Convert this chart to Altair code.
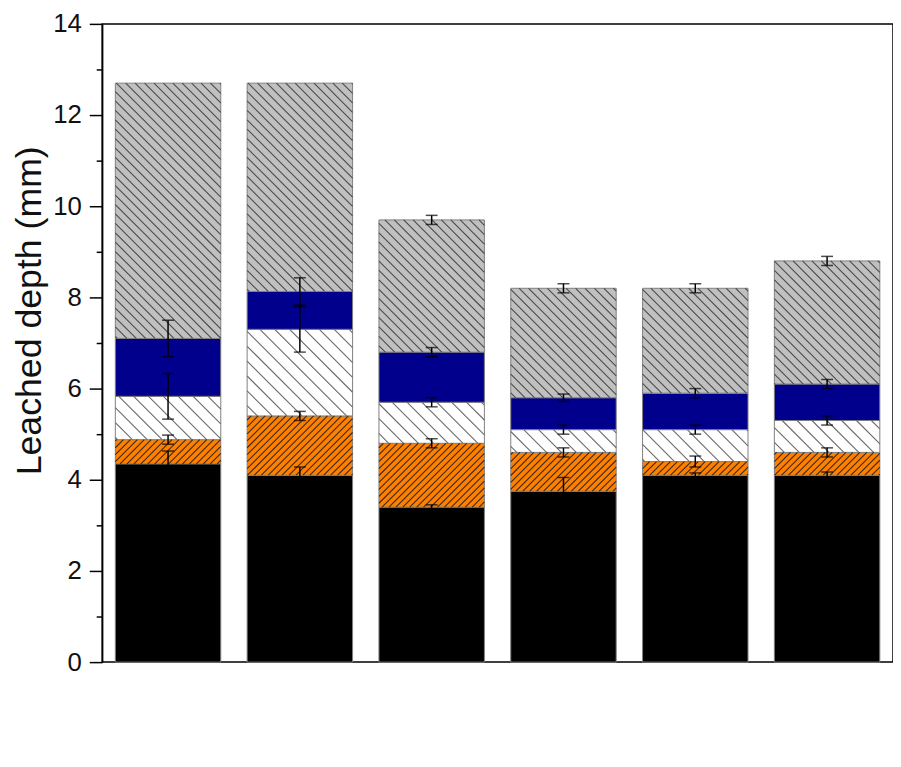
import math
import altair as alt
import pandas as pd

# ---------------- data ----------------
mixes = ["wPC", "5LS", "10DE", "20DE", "30DE", "30DE-5LS"]
series = ["56 d", "28 d", "21 d", "14 d", "7 d"]          # legend order
stack_order = ["7 d", "14 d", "21 d", "28 d", "56 d"]     # bottom -> top

# cumulative leached depth (top of each segment), mm
top_7 = [4.35, 4.10, 3.40, 3.75, 4.10, 4.10]
top_14 = [4.88, 5.40, 4.80, 4.60, 4.40, 4.60]
top_21 = [5.83, 7.30, 5.70, 5.10, 5.10, 5.30]
top_28 = [7.10, 8.13, 6.80, 5.80, 5.90, 6.10]
top_56 = [12.70, 12.70, 9.70, 8.20, 8.20, 8.80]

# error (+/-), mm
err_7 = [0.28, 0.18, 0.05, 0.30, 0.05, 0.07]
err_14 = [0.10, 0.10, 0.10, 0.10, 0.12, 0.10]
err_21 = [0.50, 0.50, 0.10, 0.10, 0.10, 0.10]
err_28 = [0.40, 0.30, 0.10, 0.08, 0.10, 0.10]
err_56 = [0.00, 0.00, 0.10, 0.10, 0.10, 0.10]

y_major = [0, 2, 4, 6, 8, 10, 12, 14]
y_minor = [1, 3, 5, 7, 9, 11, 13]

tops = {"7 d": top_7, "14 d": top_14, "21 d": top_21, "28 d": top_28, "56 d": top_56}
errs = {"7 d": err_7, "14 d": err_14, "21 d": err_21, "28 d": err_28, "56 d": err_56}

# ---------------- styling ----------------
FONT = "Liberation Sans"
fills = {"56 d": "#c0c0c0", "28 d": "#00008c", "21 d": "#ffffff", "14 d": "#ff8000", "7 d": "#000000"}
# hatch: (direction, horizontal spacing px, colour, width)
hatch_style = {"56 d": ("\\", 9.5, "#4a4a4a", 1.1),
               "21 d": ("\\", 15.0, "#6a6a6a", 1.1),
               "14 d": ("/", 7.0, "#3a2a12", 1.1)}

X0, X1 = 0.5, 6.5
Y0, Y1 = 0.0, 14.0
W, H = 798, 644
KX = W / (X1 - X0)
KY = H / (Y1 - Y0)
HALF = 0.4


def hatch_lines(xa, xb, ya, yb, kind, step):
    """lines clipped to a rectangle, all in pixel units with y pointing up"""
    out = []
    if kind == "\\":
        k0 = math.floor((xa + ya) / step)
        k1 = math.ceil((xb + yb) / step)
        for k in range(k0, k1 + 1):
            c = k * step
            p0 = max(xa, c - yb)
            p1 = min(xb, c - ya)
            if p1 - p0 > 0.4:
                out.append((p0, c - p0, p1, c - p1))
    else:
        k0 = math.floor((ya - xb) / step)
        k1 = math.ceil((yb - xa) / step)
        for k in range(k0, k1 + 1):
            c = k * step
            p0 = max(xa, ya - c)
            p1 = min(xb, yb - c)
            if p1 - p0 > 0.4:
                out.append((p0, p0 + c, p1, p1 + c))
    return out


# segments
seg_rows = []
for i, m in enumerate(mixes):
    pos = i + 1
    base = 0.0
    for s in stack_order:
        t = tops[s][i]
        seg_rows.append(dict(mix=m, pos=pos, xa=pos - HALF, xb=pos + HALF,
                             series=s, y0=base, y1=t, lo=t - errs[s][i], hi=t + errs[s][i],
                             err=errs[s][i]))
        base = t
seg = pd.DataFrame(seg_rows)
err_df = seg[seg["err"] > 0].copy()

# hatch lines for bars (derived from the segment rectangles)
hatch_frames = {}
for s_name, (kind, step, col, _w) in hatch_style.items():
    rows = []
    for r in seg_rows:
        if r["series"] != s_name:
            continue
        xa = (r["xa"] - X0) * KX
        xb = (r["xb"] - X0) * KX
        ya = r["y0"] * KY
        yb = r["y1"] * KY
        for (p0, q0, p1, q1) in hatch_lines(xa, xb, ya, yb, kind, step):
            rows.append(dict(hx=p0 / KX + X0, hy=q0 / KY, hx2=p1 / KX + X0, hy2=q1 / KY))
    hatch_frames[s_name] = pd.DataFrame(rows)

x_scale = alt.Scale(domain=[X0, X1], nice=False, zero=False)
y_scale = alt.Scale(domain=[Y0, Y1], nice=False, zero=False)
fill_scale = alt.Scale(domain=series, range=[fills[s] for s in series])

label_expr = ""
for i, m in enumerate(mixes):
    label_expr += f"datum.value == {i + 1} ? '{m}' : "
label_expr += "''"

x_axis = alt.Axis(values=list(range(1, len(mixes) + 1)), labelExpr=label_expr,
                  tickSize=13, labelPadding=8, titlePadding=18, grid=False)
y_axis = alt.Axis(values=y_major, tickSize=13, labelPadding=8, titlePadding=4,
                  titleY=289, grid=False)
y_axis_minor = alt.Axis(values=y_minor, tickSize=6, labels=False, domain=False,
                        title=None, grid=False, orient="left")

bars = alt.Chart(seg).mark_bar(stroke="#808080", strokeWidth=1).encode(
    x=alt.X("xa:Q", scale=x_scale, axis=x_axis, title="Mix"),
    x2="xb:Q",
    y=alt.Y("y0:Q", scale=y_scale, axis=y_axis, title="Leached depth (mm)"),
    y2="y1:Q",
    fill=alt.Fill("series:N", scale=fill_scale, legend=None),
)

hatch_layers = []
for s_name, (kind, step, col, lw) in hatch_style.items():
    hatch_layers.append(
        alt.Chart(hatch_frames[s_name]).mark_rule(strokeWidth=lw, color=col).encode(
            x=alt.X("hx:Q", scale=x_scale, axis=None),
            x2="hx2:Q",
            y=alt.Y("hy:Q", scale=y_scale, axis=None),
            y2="hy2:Q",
        )
    )

err_line = alt.Chart(err_df).mark_rule(color="black", strokeWidth=1.5).encode(
    x=alt.X("pos:Q", scale=x_scale, axis=None),
    y=alt.Y("lo:Q", scale=y_scale, axis=y_axis_minor),
    y2="hi:Q",
)
cap_lo = alt.Chart(err_df).mark_tick(color="black", orient="horizontal", size=12, thickness=1.5).encode(
    x=alt.X("pos:Q", scale=x_scale, axis=None),
    y=alt.Y("lo:Q", scale=y_scale, axis=None),
)
cap_hi = alt.Chart(err_df).mark_tick(color="black", orient="horizontal", size=12, thickness=1.5).encode(
    x=alt.X("pos:Q", scale=x_scale, axis=None),
    y=alt.Y("hi:Q", scale=y_scale, axis=None),
)

chart = alt.layer(bars, *hatch_layers, err_line, cap_lo, cap_hi).resolve_axis(
    y="independent"
).properties(
    width=W, height=H, padding={"left": 4, "top": 0, "right": 0, "bottom": 0}
).configure_view(
    stroke="black", strokeWidth=1.5
).configure_axis(
    labelFont=FONT, titleFont=FONT, labelFontSize=26, titleFontSize=36,
    titleFontWeight="normal", labelColor="#111111", titleColor="#111111",
    domainColor="black", domainWidth=1.5, tickColor="black", tickWidth=1.5,
)

chart.save("out.html", embed_options={"renderer": "svg", "actions": False})
